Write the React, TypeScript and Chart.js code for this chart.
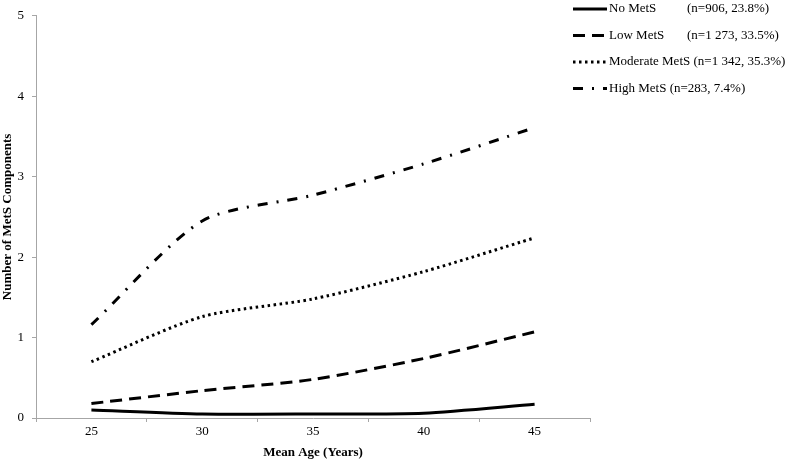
import React, { useEffect, useRef } from "react";
import { Chart, registerables } from "chart.js";

Chart.register(...registerables);

const categories = ["25", "30", "35", "40", "45"];
const noMetS = [0.1, 0.05, 0.05, 0.06, 0.17];
const lowMetS = [0.18, 0.34, 0.48, 0.74, 1.07];
const moderateMetS = [0.7, 1.26, 1.48, 1.82, 2.24];
const highMetS = [1.16, 2.45, 2.77, 3.16, 3.61];

const seriesNames = ["No MetS", "Low MetS", "Moderate MetS", "High MetS"];
const seriesCounts = ["(n=906, 23.8%)", "(n=1 273, 33.5%)", "(n=1 342, 35.3%)", "(n=283, 7.4%)"];

const yTitle = "Number of MetS Components";
const xTitle = "Mean Age (Years)";

const FONT = '"Liberation Serif", "Times New Roman", serif';
const AXIS_GREY = "#a6a6a6";

const dashes = [[], [12, 7], [2.5, 3.5], [10, 9, 2, 9]];

const legendPlugin = {
  id: "customLegend",
  afterDraw(chart: any) {
    const ctx = chart.ctx;
    const rowsY = [9, 35.5, 62, 88.5];
    ctx.save();
    chart.data.datasets.forEach((ds: any, i: number) => {
      const y = rowsY[i];
      ctx.beginPath();
      ctx.setLineDash(ds.borderDash || []);
      ctx.lineWidth = 3;
      ctx.strokeStyle = "#000";
      ctx.lineCap = "butt";
      ctx.moveTo(573, y);
      ctx.lineTo(607, y);
      ctx.stroke();
      ctx.setLineDash([]);
      ctx.fillStyle = "#000";
      ctx.font = `13px ${FONT}`;
      ctx.textBaseline = "middle";
      ctx.textAlign = "left";
      const name = seriesNames[i];
      const count = seriesCounts[i];
      ctx.fillText(name, 609, y);
      if (i < 2) {
        ctx.fillText(count, 687, y);
      } else {
        const w = ctx.measureText(name + " ").width;
        ctx.fillText(count, 609 + w, y);
      }
    });
    ctx.restore();
  },
};

export default function App() {
  const ref = useRef<HTMLCanvasElement>(null);

  useEffect(() => {
    if (!ref.current) return;
    const values = [noMetS, lowMetS, moderateMetS, highMetS];
    const chart = new Chart(ref.current, {
      type: "line",
      data: {
        labels: categories,
        datasets: values.map((v, i) => ({
          label: seriesNames[i],
          data: v,
          borderColor: "#000",
          backgroundColor: "#000",
          borderWidth: 3,
          borderDash: dashes[i],
          pointRadius: 0,
          tension: 0.25,
          fill: false,
        })),
      },
      options: {
        responsive: false,
        animation: false,
        devicePixelRatio: 1,
        layout: { padding: { left: 0, top: 15, right: 196, bottom: 0 } },
        plugins: {
          legend: { display: false },
          tooltip: { enabled: false },
        },
        scales: {
          x: {
            type: "category",
            offset: true,
            grid: {
              display: true,
              offset: true,
              drawOnChartArea: false,
              drawTicks: true,
              tickLength: 4,
              color: AXIS_GREY,
            },
            border: { display: true, color: AXIS_GREY, width: 1 },
            ticks: {
              color: "#000",
              font: { family: FONT, size: 13 },
              padding: 2,
              maxRotation: 0,
            },
            title: {
              display: true,
              text: xTitle,
              color: "#000",
              font: { family: FONT, size: 13, weight: "bold" },
              padding: { top: 0, bottom: 2 },
            },
            afterFit(scale: any) {
              scale.height = 44;
            },
          },
          y: {
            min: 0,
            max: 5,
            ticks: {
              stepSize: 1,
              color: "#000",
              font: { family: FONT, size: 13 },
              padding: 8,
            },
            grid: {
              display: true,
              drawOnChartArea: false,
              drawTicks: true,
              tickLength: 4,
              color: AXIS_GREY,
            },
            border: { display: true, color: AXIS_GREY, width: 1 },
            title: {
              display: true,
              text: yTitle,
              color: "#000",
              font: { family: FONT, size: 13, weight: "bold" },
              padding: { top: 0, bottom: 0 },
            },
            afterFit(scale: any) {
              scale.width = 36;
            },
          },
        },
      },
      plugins: [legendPlugin],
    } as any);
    return () => chart.destroy();
  }, []);

  return (
    <div style={{ position: "absolute", left: 0, top: 0, width: 786, height: 462, background: "#fff" }}>
      <canvas ref={ref} width={786} height={462} />
    </div>
  );
}
